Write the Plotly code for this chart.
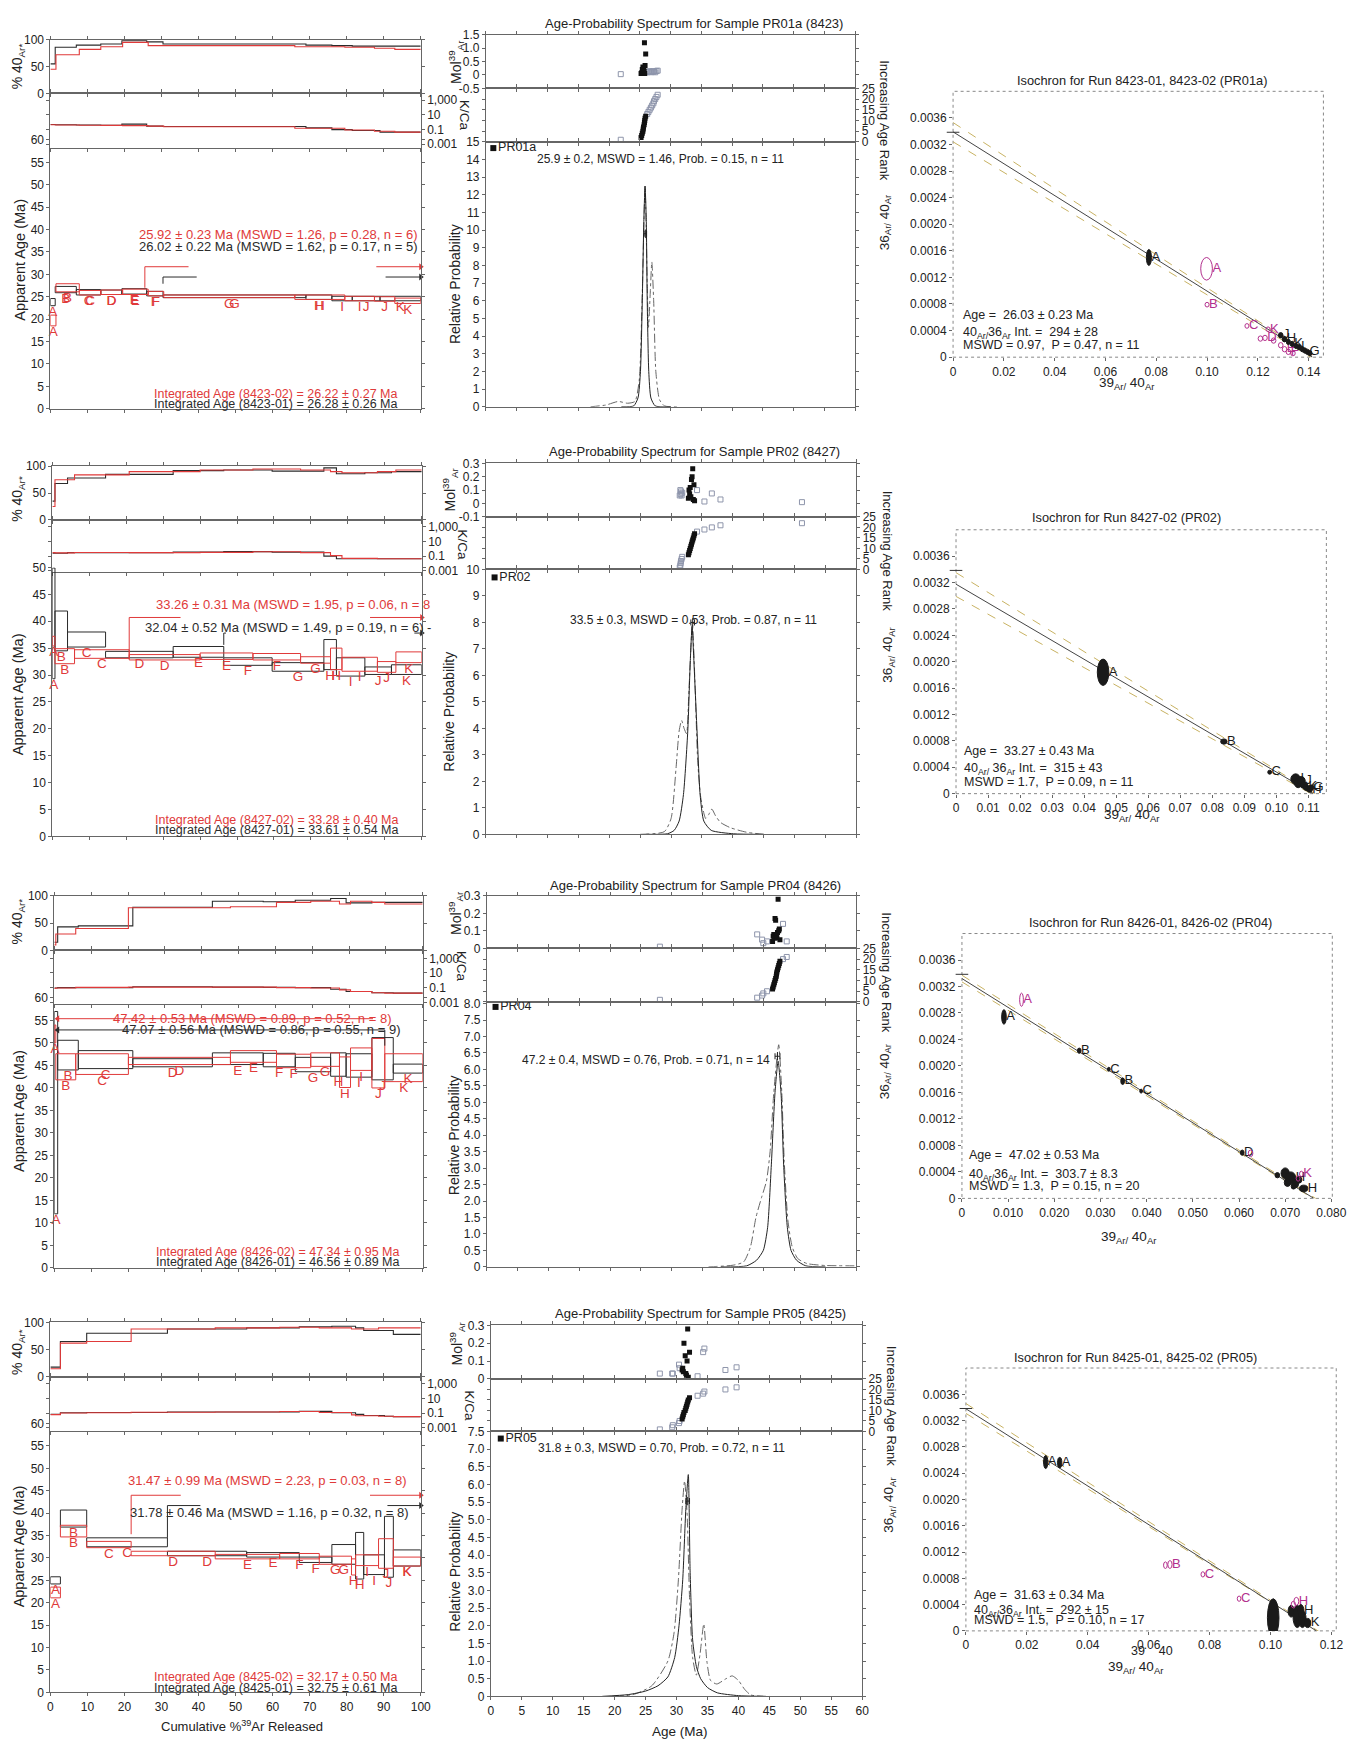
import plotly.graph_objects as go

W, H = 1370, 1748
FONT = "Liberation Sans, Arial, Helvetica, sans-serif"
RED = "#e03a3a"
BLK = "#2b2b2b"
MAG = "#b3308e"
OLIVE = "#c8b262"
OPEN = "#8e95ab"
LETTERS = ["A", "B", "C", "D", "E", "F", "G", "H", "I", "J", "K"]

# ================= Row 1 : PR01a (8423) =================
R1_EDGES_01 = [0, 1.3, 7.0, 13.6, 19.3, 26.0, 30.4, 69.0, 76.0, 81.5, 89.0, 100]
R1_AGE_01 = [23.8, 26.6, 26.0, 26.0, 26.2, 25.7, 25.1, 24.9, 24.6, 24.6, 24.6]
R1_ERR_01 = [0.8, 0.7, 0.6, 0.5, 0.6, 0.5, 0.3, 0.5, 0.5, 0.5, 0.5]
R1_RAD_01 = [55, 86, 90, 92, 98, 96, 92, 90, 89, 88, 88]
R1_KCA_01 = [0.5, 0.45, 0.42, 0.4, 0.55, 0.3, 0.27, 0.17, 0.1, 0.075, 0.045]
R1_EDGES_02 = [0, 1.5, 7.8, 13.6, 19.5, 26.4, 30.6, 66.0, 79.5, 87.5, 93.0, 100]
R1_AGE_02 = [19.7, 27.0, 25.9, 26.0, 26.1, 25.7, 25.1, 24.9, 24.6, 24.5, 24.1]
R1_ERR_02 = [1.2, 0.9, 0.5, 0.5, 0.6, 0.5, 0.3, 0.5, 0.5, 0.5, 0.6]
R1_RAD_02 = [45, 72, 82, 87, 95, 89, 89, 87, 86, 84, 82]
R1_KCA_02 = [0.45, 0.42, 0.4, 0.38, 0.35, 0.3, 0.25, 0.15, 0.09, 0.06, 0.045]
R1_PLAT_02 = [25.5, 100, 31.7, 25.5, 27.0, 37.3, 88.0]
R1_PLAT_01 = [30.4, 100, 29.4, 30.4, 27.9, 39.5, 90.5]
R1_PLAT_HEAD = "right"
R1_PLAT_TXT_02 = "25.92 ± 0.23 Ma (MSWD = 1.26, p = 0.28, n = 6)"
R1_PLAT_TXT_01 = "26.02 ± 0.22 Ma (MSWD = 1.62, p = 0.17, n = 5)"
R1_INT_TXT_02 = "Integrated Age (8423-02) = 26.22 ± 0.27 Ma"
R1_INT_TXT_01 = "Integrated Age (8423-01) = 26.28 ± 0.26 Ma"
R1_MID_AGE = [21.9, 25.2, 25.3, 25.4, 25.5, 25.55, 25.6, 25.7, 25.75, 25.8, 25.85, 25.95,
              26.2, 26.4, 26.6, 26.8, 27.0, 27.2, 27.3, 27.5, 27.7, 27.9]
R1_MID_MOL = [0.03, 0.05, 0.08, 0.2, 0.3, 0.1, 0.25, 0.15, 1.2, 0.05, 0.35, 0.78,
              0.1, 0.12, 0.14, 0.1, 0.13, 0.12, 0.14, 0.1, 0.15, 0.16]
R1_MID_INC = [0, 1, 1, 1, 1, 1, 1, 1, 1, 1, 1, 1, 0, 0, 0, 0, 0, 0, 0, 0, 0, 0]
R1_PDF_X = [22, 24.0, 24.7, 25.1, 25.4, 25.65, 25.85, 26.05, 26.2, 26.45, 26.8, 27.5, 30]
R1_PDF_Y = [0, 0.05, 0.5, 2.0, 6.0, 10.5, 12.5, 10.5, 6.0, 2.0, 0.5, 0.05, 0]
R1_ALL_X = [17, 19.5, 21.5, 23.0, 24.2, 24.9, 25.4, 25.85, 26.2, 26.4, 26.7, 26.95, 27.25, 27.6, 28.2, 29.0, 31]
R1_ALL_Y = [0, 0.1, 0.3, 0.2, 0.3, 1.5, 6.5, 12.5, 7.0, 4.5, 6.5, 8.2, 6.0, 2.0, 0.4, 0.05, 0]
R1_WM = [25.9, 0.2]
R1_WM_TXT = "25.9 ± 0.2, MSWD = 1.46, Prob. = 0.15, n = 11"
R1_SAMPLE = "PR01a"
R1_MID_TITLE = "Age-Probability Spectrum for Sample PR01a (8423)"
R1_ISO_TITLE = "Isochron for Run 8423-01, 8423-02 (PR01a)"
R1_ISO_X = [0.0771, 0.1290, 0.1305, 0.1320, 0.1335, 0.1350, 0.1362, 0.1375, 0.1385, 0.1395, 0.1405,
            0.0998, 0.1000, 0.1157, 0.1240, 0.1210, 0.1228, 0.1262, 0.1290, 0.1305, 0.1320, 0.1338]
R1_ISO_Y = [0.00150, 0.00033, 0.00027, 0.00023, 0.00020, 0.00017, 0.00015, 0.00012, 0.00010, 0.00008, 0.00006,
            0.00133, 0.00079, 0.00047, 0.00042, 0.00028, 0.00029, 0.00025, 0.00018, 0.00012, 0.00008, 0.00006]
R1_ISO_SX = [0.0010, 0.0009, 0.0009, 0.0008, 0.0008, 0.0008, 0.0008, 0.0008, 0.0008, 0.0008, 0.0008,
             0.0023, 0.0008, 0.0008, 0.0008, 0.0009, 0.0009, 0.0009, 0.0009, 0.0009, 0.0009, 0.0009]
R1_ISO_SY = [0.00012, 0.00004, 0.00004, 0.00004, 0.00004, 0.00004, 0.00004, 0.00004, 0.00004, 0.00004, 0.00004,
             0.00017, 0.000035, 0.000035, 0.000035, 0.00004, 0.00004, 0.00004, 0.00004, 0.00004, 0.00004, 0.00004]
R1_ISO_FILLED = [1, 1, 1, 1, 1, 1, 1, 1, 1, 1, 1, 0, 0, 0, 0, 0, 0, 0, 0, 0, 0, 0]
R1_ISO_LBL = ["A", "J", "H", "", "K", "", "I", "", "", "G", "", "A", "B", "C", "K", "", "D", "", "", "E", "F", ""]
R1_FIT = [0.00339, 0.1415]
R1_ENV_X = [0, 0.13, 0.1460]
R1_ENV_HI = [0.00353, 0.00030, -0.00010]
R1_ENV_LO = [0.00324, 0.00025, -0.00012]
R1_ISO_TXT = ["Age =  26.03 ± 0.23 Ma", "40<sub>Ar/</sub>36<sub>Ar</sub> Int. =  294 ± 28", "MSWD = 0.97,  P = 0.47, n = 11"]

# ================= Row 2 : PR02 (8427) =================
R2_EDGES_01 = [0, 0.7, 4.1, 14.4, 32.7, 46.4, 59.5, 73.5, 76.9, 84.6, 91.8, 100]
R2_AGE_01 = [39.6, 38.2, 36.6, 33.8, 34.3, 32.5, 31.5, 33.8, 31.5, 30.8, 31.0]
R2_ERR_01 = [10.3, 3.7, 1.4, 0.6, 1.0, 0.7, 0.8, 2.8, 1.7, 0.7, 0.9]
R2_RAD_01 = [35, 68, 78, 85, 92, 93, 91, 97, 86, 88, 90]
R2_KCA_01 = [0.25, 0.25, 0.3, 0.3, 0.35, 0.42, 0.35, 0.1, 0.045, 0.045, 0.045]
R2_EDGES_02 = [0, 0.7, 6.0, 20.8, 40.0, 54.3, 67.2, 75.3, 78.4, 88.0, 93.0, 100]
R2_AGE_02 = [36.3, 33.5, 33.9, 33.3, 33.5, 33.4, 32.8, 33.0, 32.0, 31.5, 33.3]
R2_ERR_02 = [0.9, 1.4, 0.8, 0.5, 0.6, 0.6, 0.6, 2.0, 1.3, 1.0, 1.0]
R2_RAD_02 = [25, 75, 84, 90, 93, 95, 93, 90, 88, 90, 93]
R2_KCA_02 = [0.3, 0.28, 0.32, 0.3, 0.33, 0.4, 0.3, 0.12, 0.05, 0.045, 0.045]
R2_PLAT_02 = [20.8, 100, 40.7, 20.8, 33.1, 34.7, 86.0]
R2_PLAT_01 = [46.4, 100, 37.8, 46.4, 35.6, 47.0, 98.0]
R2_PLAT_HEAD = "right"
R2_PLAT_TXT_02 = "33.26 ± 0.31 Ma (MSWD = 1.95, p = 0.06, n = 8"
R2_PLAT_TXT_01 = "32.04 ± 0.52 Ma (MSWD = 1.49, p = 0.19, n = 6) -"
R2_INT_TXT_02 = "Integrated Age (8427-02) = 33.28 ± 0.40 Ma"
R2_INT_TXT_01 = "Integrated Age (8427-01) = 33.61 ± 0.54 Ma"
R2_MID_AGE = [31.4, 31.5, 31.55, 31.6, 31.7, 31.8, 32.8, 32.9, 33.0, 33.1, 33.2, 33.3, 33.4, 33.5, 33.6,
              33.7, 33.8, 34.2, 35.4, 36.6, 38.0, 51.2]
R2_MID_MOL = [0.06, 0.1, 0.07, 0.09, 0.06, 0.08, 0.04, 0.1, 0.07, 0.12, 0.05, 0.18, 0.2, 0.26, 0.03,
              0.14, 0.02, 0.1, 0.015, 0.075, 0.03, 0.01]
R2_MID_INC = [0, 0, 0, 0, 0, 0, 1, 1, 1, 1, 1, 1, 1, 1, 1, 1, 1, 0, 0, 0, 0, 0]
R2_PDF_X = [26, 29.4, 30.5, 31.3, 32.0, 32.7, 33.1, 33.4, 33.7, 34.2, 34.7, 35.3, 36.5, 40.1, 45]
R2_PDF_Y = [0, 0.02, 0.15, 0.5, 1.5, 3.9, 6.5, 7.85, 6.5, 3.9, 1.5, 0.5, 0.15, 0.02, 0]
R2_ALL_X = [25, 28.9, 30.0, 30.8, 31.3, 31.7, 32.1, 32.5, 32.9, 33.45, 33.9, 34.3, 34.8, 35.6, 36.1,
            36.6, 37.2, 38.0, 39.6, 42.2, 45]
R2_ALL_Y = [0, 0.1, 0.6, 2.5, 3.9, 4.3, 4.0, 3.8, 5.5, 7.95, 5.5, 2.8, 1.4, 0.6, 0.75,
            0.95, 0.7, 0.45, 0.25, 0.08, 0]
R2_WM = [33.5, 0.3]
R2_WM_TXT = "33.5 ± 0.3, MSWD = 0.53, Prob. = 0.87, n = 11"
R2_SAMPLE = "PR02"
R2_MID_TITLE = "Age-Probability Spectrum for Sample PR02 (8427)"
R2_ISO_TITLE = "Isochron for Run 8427-02 (PR02)"
R2_ISO_X = [0.0459, 0.0836, 0.0979, 0.1060, 0.1068, 0.1078, 0.1085, 0.1092, 0.1098, 0.1104, 0.1108]
R2_ISO_Y = [0.00184, 0.00079, 0.000325, 0.00022, 0.00016, 0.00019, 0.00013, 0.00010, 0.00008, 0.00006, 0.00009]
R2_ISO_SX = [0.0018, 0.0010, 0.0006, 0.0015, 0.0012, 0.0012, 0.0010, 0.0008, 0.0008, 0.0008, 0.0008]
R2_ISO_SY = [0.00020, 0.00004, 0.00003, 0.00008, 0.00007, 0.00007, 0.00005, 0.00005, 0.00004, 0.00004, 0.00004]
R2_ISO_FILLED = [1, 1, 1, 1, 1, 1, 1, 1, 1, 1, 1]
R2_ISO_LBL = ["A", "B", "C", "I", "", "J", "", "K", "", "H", "G"]
R2_FIT = [0.003175, 0.1115]
R2_ENV_X = [0, 0.105, 0.1156]
R2_ENV_HI = [0.00335, 0.00021, -0.00011]
R2_ENV_LO = [0.00299, 0.00016, -0.00013]
R2_ISO_TXT = ["Age =  33.27 ± 0.43 Ma", "40<sub>Ar/</sub> 36<sub>Ar</sub> Int. =  315 ± 43", "MSWD = 1.7,  P = 0.09, n = 11"]

# ================= Row 3 : PR04 (8426) =================
R3_EDGES_01 = [0, 0.9, 6.5, 21.3, 42.9, 56.7, 65.4, 75.0, 79.2, 86.2, 92.0, 100]
R3_AGE_01 = [34.5, 47.3, 46.3, 45.6, 46.5, 46.2, 45.2, 45.2, 45.0, 46.5, 44.3]
R3_ERR_01 = [22.5, 3.3, 2.0, 0.9, 1.3, 1.5, 1.6, 2.6, 2.6, 4.7, 1.0]
R3_RAD_01 = [15, 43, 45, 79, 90, 89, 92, 95, 87, 88, 88]
R3_KCA_01 = [0.09, 0.1, 0.1, 0.13, 0.12, 0.11, 0.1, 0.06, 0.03, 0.02, 0.018]
R3_EDGES_02 = [0, 0.4, 5.8, 20.1, 47.8, 60.3, 69.6, 77.4, 80.4, 86.2, 89.7, 100]
R3_AGE_02 = [52.0, 44.7, 45.3, 46.0, 47.0, 46.0, 46.3, 43.5, 46.4, 45.5, 44.5]
R3_ERR_02 = [2.0, 2.9, 2.3, 0.8, 1.3, 1.5, 1.5, 3.4, 2.5, 5.5, 3.1]
R3_RAD_02 = [10, 30, 40, 78, 80, 88, 90, 85, 90, 88, 85]
R3_KCA_02 = [0.08, 0.09, 0.11, 0.12, 0.12, 0.1, 0.09, 0.05, 0.03, 0.02, 0.018]
R3_PLAT_02 = [0.9, 86.5, 55.4, None, None, None, None]
R3_PLAT_01 = [0.9, 89.7, 52.9, 89.7, 49.4, None, None]
R3_PLAT_HEAD = "left"
R3_PLAT_TXT_02 = "47.42 ± 0.53 Ma (MSWD = 0.89, p = 0.52, n = 8)"
R3_PLAT_TXT_01 = "47.07 ± 0.56 Ma (MSWD = 0.86, p = 0.55, n = 9)"
R3_INT_TXT_02 = "Integrated Age (8426-02) = 47.34 ± 0.95 Ma"
R3_INT_TXT_01 = "Integrated Age (8426-01) = 46.56 ± 0.89 Ma"
R3_MID_AGE = [28.1, 43.9, 44.7, 44.9, 45.5, 46.4, 46.5, 46.6, 46.7, 46.8, 46.9, 47.0, 47.05, 47.1,
              47.2, 47.3, 47.4, 47.5, 47.6, 48.1, 48.7]
R3_MID_MOL = [0.01, 0.08, 0.05, 0.03, 0.04, 0.04, 0.07, 0.08, 0.06, 0.17, 0.16, 0.08, 0.07, 0.06,
              0.09, 0.28, 0.1, 0.11, 0.05, 0.14, 0.04]
R3_MID_INC = [0, 0, 0, 0, 0, 1, 1, 1, 1, 1, 1, 1, 1, 1, 1, 1, 1, 1, 1, 0, 0]
R3_PDF_X = [38, 42.2, 43.8, 44.9, 45.6, 46.2, 46.8, 47.3, 47.8, 48.2, 48.8, 49.4, 50.3, 51.8, 55]
R3_PDF_Y = [0, 0.03, 0.2, 0.5, 1.2, 3.1, 5.3, 6.25, 5.2, 3.1, 1.2, 0.5, 0.2, 0.03, 0]
R3_ALL_X = [36, 40, 41.7, 42.8, 43.7, 44.6, 45.4, 46.0, 46.6, 47.4, 47.9, 48.3, 48.9, 49.6, 50.5, 52, 55, 60]
R3_ALL_Y = [0, 0.05, 0.15, 0.6, 1.5, 2.1, 2.6, 3.5, 5.3, 6.75, 5.3, 3.2, 1.4, 0.6, 0.25, 0.1, 0.04, 0.03]
R3_WM = [47.2, 0.4]
R3_WM_TXT = "47.2 ± 0.4, MSWD = 0.76, Prob. = 0.71, n = 14"
R3_SAMPLE = "PR04"
R3_MID_TITLE = "Age-Probability Spectrum for Sample PR04 (8426)"
R3_ISO_TITLE = "Isochron for Run 8426-01, 8426-02 (PR04)"
R3_ISO_X = [0.0091, 0.0254, 0.0318, 0.0348, 0.0388, 0.0607, 0.0683, 0.0700, 0.0712, 0.0705, 0.0722, 0.0730, 0.0740, 0.0718,
            0.0129, 0.0625, 0.0735, 0.0728]
R3_ISO_Y = [0.00274, 0.00223, 0.00195, 0.00177, 0.00162, 0.00069, 0.00035, 0.00038, 0.00031, 0.00024, 0.00022, 0.00028, 0.00015, 0.00018,
            0.00300, 0.00068, 0.00037, 0.00030]
R3_ISO_SX = [0.0005, 0.0004, 0.0003, 0.0004, 0.0003, 0.0004, 0.0005, 0.0009, 0.0011, 0.0007, 0.0007, 0.0006, 0.0009, 0.0005,
             0.0004, 0.0005, 0.0004, 0.0004]
R3_ISO_SY = [0.00011, 0.00004, 0.00003, 0.00005, 0.00003, 0.00004, 0.00004, 0.00008, 0.00009, 0.00006, 0.00006, 0.00005, 0.00005, 0.00004,
             0.00010, 0.00005, 0.00004, 0.00004]
R3_ISO_FILLED = [1, 1, 1, 1, 1, 1, 1, 1, 1, 1, 1, 1, 1, 1, 0, 0, 0, 0]
R3_ISO_LBL = ["A", "B", "C", "B", "C", "D", "", "", "H", "", "", "", "H", "", "A", "", "K", ""]
R3_FIT = [0.00332, 0.0762]
R3_ENV_X = [0, 0.07, 0.0802]
R3_ENV_HI = [0.00337, 0.00029, -0.00016]
R3_ENV_LO = [0.00327, 0.00026, -0.00018]
R3_ISO_TXT = ["Age =  47.02 ± 0.53 Ma", "40<sub>Ar/</sub>36<sub>Ar</sub> Int. =  303.7 ± 8.3", "MSWD = 1.3,  P = 0.15, n = 20"]

# ================= Row 4 : PR05 (8425) =================
R4_EDGES_01 = [0, 2.7, 9.8, 31.6, 53.0, 67.2, 76.0, 82.4, 84.6, 90.2, 92.6, 100]
R4_AGE_01 = [25.0, 38.8, 33.5, 31.0, 30.7, 29.6, 30.8, 30.5, 28.5, 32.5, 30.0]
R4_ERR_01 = [0.8, 1.9, 1.0, 0.5, 0.5, 0.6, 2.2, 5.2, 2.2, 6.8, 1.8]
R4_RAD_01 = [18, 65, 80, 88, 90, 92, 93, 90, 85, 85, 78]
R4_KCA_01 = [0.07, 0.12, 0.13, 0.15, 0.15, 0.18, 0.12, 0.07, 0.05, 0.04, 0.035]
R4_EDGES_02 = [0, 2.7, 9.8, 21.8, 44.5, 61.9, 72.6, 81.3, 82.4, 88.6, 92.6, 100]
R4_AGE_02 = [22.3, 36.0, 33.0, 31.0, 30.3, 30.4, 29.5, 28.0, 29.5, 31.0, 29.2]
R4_ERR_02 = [1.2, 1.3, 0.7, 0.5, 0.5, 0.6, 0.9, 1.8, 1.2, 3.3, 1.0]
R4_RAD_02 = [15, 62, 65, 88, 90, 91, 90, 88, 88, 90, 90]
R4_KCA_02 = [0.065, 0.11, 0.12, 0.14, 0.15, 0.17, 0.13, 0.06, 0.045, 0.04, 0.035]
R4_PLAT_02 = [21.8, 100, 44.0, 21.8, 35.3, 35.2, 86.3]
R4_PLAT_01 = [31.6, 100, 41.7, 31.6, 34.5, 40.5, 91.0]
R4_PLAT_HEAD = "right"
R4_PLAT_TXT_02 = "31.47 ± 0.99 Ma (MSWD = 2.23, p = 0.03, n = 8)"
R4_PLAT_TXT_01 = "31.78 ± 0.46 Ma (MSWD = 1.16, p = 0.32, n = 8)"
R4_INT_TXT_02 = "Integrated Age (8425-02) = 32.17 ± 0.50 Ma"
R4_INT_TXT_01 = "Integrated Age (8425-01) = 32.75 ± 0.61 Ma"
R4_MID_AGE = [27.3, 29.3, 29.4, 30.4, 30.5, 30.9, 31.0, 31.1, 31.2, 31.4, 31.5, 31.6, 31.7, 31.8, 31.9,
              32.1, 33.4, 34.3, 34.5, 37.9, 39.7]
R4_MID_MOL = [0.03, 0.03, 0.03, 0.08, 0.06, 0.05, 0.06, 0.04, 0.2, 0.13, 0.03, 0.02, 0.1, 0.28, 0.01,
              0.15, 0.015, 0.15, 0.17, 0.05, 0.065]
R4_MID_INC = [0, 0, 0, 0, 0, 1, 1, 1, 1, 1, 1, 1, 1, 1, 1, 1, 0, 0, 0, 0, 0]
R4_PDF_X = [18, 22.2, 25.0, 27.0, 28.6, 29.7, 30.4, 31.0, 31.5, 31.9, 32.2, 32.6, 33.2, 33.9, 35.0, 36.6, 40, 44]
R4_PDF_Y = [0, 0.05, 0.15, 0.3, 0.55, 1.1, 2.0, 3.3, 5.3, 6.28, 3.5, 1.6, 0.85, 0.5, 0.25, 0.1, 0.02, 0]
R4_ALL_X = [20, 23, 26, 28.6, 29.6, 30.3, 30.9, 31.3, 31.7, 32.1, 32.6, 33.2, 33.8, 34.4, 34.9, 35.5,
            36.5, 38.0, 39.0, 40.0, 41.0, 42, 45]
R4_ALL_Y = [0, 0.05, 0.3, 1.0, 1.8, 3.3, 5.3, 6.1, 5.2, 2.8, 1.1, 0.6, 1.2, 2.05, 1.0, 0.45,
            0.35, 0.5, 0.58, 0.45, 0.2, 0.04, 0]
R4_WM = [31.8, 0.3]
R4_WM_TXT = "31.8 ± 0.3, MSWD = 0.70, Prob. = 0.72, n = 11"
R4_SAMPLE = "PR05"
R4_MID_TITLE = "Age-Probability Spectrum for Sample PR05 (8425)"
R4_ISO_TITLE = "Isochron for Run 8425-01, 8425-02 (PR05)"
R4_ISO_X = [0.0262, 0.0308, 0.1009, 0.1068, 0.1088, 0.1105, 0.1122, 0.1100, 0.0655, 0.0670, 0.0778, 0.0897, 0.1085, 0.1075]
R4_ISO_Y = [0.00257, 0.00256, 0.00020, 0.00030, 0.00022, 0.00018, 0.00012, 0.00030, 0.00100, 0.00101, 0.00086, 0.00049, 0.00045, 0.00040]
R4_ISO_SX = [0.0007, 0.0007, 0.0019, 0.0010, 0.0014, 0.0012, 0.0010, 0.0010, 0.0006, 0.0007, 0.0006, 0.0006, 0.0008, 0.0007]
R4_ISO_SY = [0.00010, 0.00008, 0.00029, 0.00009, 0.00017, 0.00013, 0.00007, 0.00010, 0.00005, 0.00006, 0.00004, 0.00004, 0.00006, 0.00005]
R4_ISO_FILLED = [1, 1, 1, 1, 1, 1, 1, 1, 0, 0, 0, 0, 0, 0]
R4_ISO_LBL = ["A", "A", "", "", "", "", "K", "H", "", "B", "C", "C", "H", ""]
R4_FIT = [0.00338, 0.1151]
R4_ENV_X = [0, 0.105, 0.1216]
R4_ENV_HI = [0.00346, 0.00032, -0.00018]
R4_ENV_LO = [0.00331, 0.00030, -0.00018]
R4_ISO_TXT = ["Age =  31.63 ± 0.34 Ma", "40<sub>Ar/</sub>36<sub>Ar</sub> Int. =  292 ± 15", "MSWD = 1.5,  P = 0.10, n = 17"]

ATM_RATIO = 0.003384

ROWS = []
for p in ["R1", "R2", "R3", "R4"]:
    g = globals()
    ROWS.append({k: g[p + "_" + k] for k in [
        "EDGES_01", "AGE_01", "ERR_01", "RAD_01", "KCA_01", "EDGES_02", "AGE_02", "ERR_02", "RAD_02", "KCA_02",
        "PLAT_02", "PLAT_01", "PLAT_HEAD", "PLAT_TXT_02", "PLAT_TXT_01", "INT_TXT_02", "INT_TXT_01",
        "MID_AGE", "MID_MOL", "MID_INC", "PDF_X", "PDF_Y", "ALL_X", "ALL_Y", "WM", "WM_TXT", "SAMPLE",
        "MID_TITLE", "ISO_TITLE", "ISO_X", "ISO_Y", "ISO_SX", "ISO_SY", "ISO_FILLED", "ISO_LBL",
        "FIT", "ENV_X", "ENV_HI", "ENV_LO", "ISO_TXT"]})


def fmt_list(vals, fmt):
    return ["0" if v == 0 else fmt.format(v) for v in vals]


ISO_Y_TV = [0, 0.0004, 0.0008, 0.0012, 0.0016, 0.0020, 0.0024, 0.0028, 0.0032, 0.0036]

# ---------------- layout geometry (pixels) ----------------
GEOM = [
    dict(lx=(48, 423), rad=(33, 87), kca=(87, 142), age=(134, 405), kca_r=[-3.49, 3.95], age_max=60,
         mx=(489, 863), mol=(28, 82), rank=(82, 136), prob=(136, 403),
         mol_r=[-0.5, 1.5], mol_tv=[-0.5, 0, 0.5, 1.0, 1.5], mol_tt=["-0.5", "0", "0.5", "1.0", "1.5"],
         prob_max=15, prob_tv=list(range(0, 16)), prob_tt=[str(v) for v in range(0, 16)],
         ix=(962, 1337), iy=(85, 353), ix_max=0.1458,
         ix_tv=[0, 0.02, 0.04, 0.06, 0.08, 0.10, 0.12, 0.14], ix_fmt="{:.2f}",
         ptxt02=(99.5, 38.9, "right"), ptxt01=(99.5, 36.3, "right"), itxt02=(94.3, 3.2), itxt01=(94.3, 1.1),
         wm_txt=(28.4, 14.05), slab=(1.2, 14.65), wm_lvl=9.8, isotxt_x=0.0032,
         isotxt_y=[0.00064, 0.00037, 0.00018],
         t_mid=(700, 17), t_iso=(1153, 74), t_isox=(1138, 380), t_isoy=(893, 217), t_rank=(893, 114),
         t_rad=(15, 60), t_age=(17, 255), t_prob=(457, 279), t_mol=(458, 55), t_kca=(468, 109)),
    dict(lx=(50, 424), rad=(463, 517), kca=(517, 570), age=(565, 836), kca_r=[-3.22, 3.95], age_max=50,
         mx=(489, 864), mol=(460, 514), rank=(514, 567), prob=(567, 834),
         mol_r=[-0.1, 0.3], mol_tv=[-0.1, 0, 0.1, 0.2, 0.3], mol_tt=["-0.1", "0", "0.1", "0.2", "0.3"],
         prob_max=10, prob_tv=list(range(0, 11)), prob_tt=[str(v) for v in range(0, 11)],
         ix=(965, 1340), iy=(527, 793), ix_max=0.1156,
         ix_tv=[0, 0.01, 0.02, 0.03, 0.04, 0.05, 0.06, 0.07, 0.08, 0.09, 0.10, 0.11], ix_fmt="{:.2f}",
         ptxt02=(27.5, 43.2, "left"), ptxt01=(24.6, 38.8, "left"), itxt02=(94.5, 3.0), itxt01=(94.5, 1.1),
         wm_txt=(33.6, 8.1), slab=(1.4, 9.7), wm_lvl=8.0, isotxt_x=0.002,
         isotxt_y=[0.00065, 0.000375, 0.000175],
         t_mid=(700, 448), t_iso=(1138, 515), t_isox=(1143, 815), t_isoy=(897, 653), t_rank=(895, 548),
         t_rad=(15, 496), t_age=(16, 693), t_prob=(452, 710), t_mol=(453, 486), t_kca=(465, 542)),
    dict(lx=(52, 425), rad=(896, 951), kca=(951, 1005), age=(999, 1271), kca_r=[-3.22, 4.08], age_max=60,
         mx=(490, 864), mol=(896, 949), rank=(949, 1003), prob=(1003, 1270),
         mol_r=[0, 0.3], mol_tv=[0, 0.1, 0.2, 0.3], mol_tt=["0", "0.1", "0.2", "0.3"],
         prob_max=8.05, prob_tv=[v / 2 for v in range(0, 17)],
         prob_tt=["0"] + ["{:.1f}".format(v / 2) for v in range(1, 17)],
         ix=(971, 1346), iy=(934, 1201), ix_max=0.0802,
         ix_tv=[0, 0.01, 0.02, 0.03, 0.04, 0.05, 0.06, 0.07, 0.08], ix_fmt="{:.3f}",
         ptxt02=(92.0, 55.4, "right"), ptxt01=(94.4, 52.9, "right"), itxt02=(94.5, 3.5), itxt01=(94.5, 1.2),
         wm_txt=(25.9, 6.3), slab=(1.4, 7.9), wm_lvl=6.4, isotxt_x=0.0011,
         isotxt_y=[0.00065, 0.00035, 0.000185],
         t_mid=(701, 886), t_iso=(1162, 923), t_isox=(1140, 1240), t_isoy=(893, 1073), t_rank=(895, 973),
         t_rad=(15, 922), t_age=(16, 1113), t_prob=(457, 1137), t_mol=(458, 913), t_kca=(465, 967)),
    dict(lx=(48, 423), rad=(1326, 1381), kca=(1381, 1435), age=(1428, 1699), kca_r=[-3.35, 3.95], age_max=60,
         mx=(494, 870), mol=(1329, 1383), rank=(1383, 1436), prob=(1436, 1703),
         mol_r=[0, 0.3], mol_tv=[0, 0.1, 0.2, 0.3], mol_tt=["0", "0.1", "0.2", "0.3"],
         prob_max=7.5, prob_tv=[v / 2 for v in range(0, 16)],
         prob_tt=["0"] + ["{:.1f}".format(v / 2) for v in range(1, 16)],
         ix=(975, 1350), iy=(1372, 1637), ix_max=0.1216,
         ix_tv=[0, 0.02, 0.04, 0.06, 0.08, 0.10, 0.12], ix_fmt="{:.2f}",
         ptxt02=(96.6, 47.2, "right"), ptxt01=(97.2, 40.2, "right"), itxt02=(94.4, 3.4), itxt01=(94.4, 1.0),
         wm_txt=(27.6, 7.03), slab=(1.6, 7.3), wm_lvl=5.53, isotxt_x=0.0019,
         isotxt_y=[0.00055, 0.00030, 0.00016],
         t_mid=(706, 1317), t_iso=(1147, 1361), t_isox=(1147, 1674), t_isoy=(898, 1510), t_rank=(899, 1410),
         t_rad=(15, 1356), t_age=(16, 1552), t_prob=(458, 1577), t_mol=(460, 1347), t_kca=(472, 1410)),
]

fig = go.Figure()
LAY = {}
ANN = []
SHP = []
_n = [0]


def xp(p):
    return p / W


def yp(p):
    return 1 - p / H


def base_axis():
    return dict(showline=True, linecolor="#666", linewidth=1, showgrid=False, zeroline=False,
                ticks="outside", ticklen=3, tickwidth=1, tickcolor="#666", mirror="ticks",
                tickfont=dict(family=FONT, size=12, color="#222"))


def make_axes(xpx, ypx, xr, yr, xo=None, yo=None):
    _n[0] += 1
    k = _n[0]
    s = "" if k == 1 else str(k)
    xa = base_axis()
    xa.update(domain=[xp(xpx[0]), xp(xpx[1])], range=xr, anchor="y" + s)
    ya = base_axis()
    ya.update(domain=[yp(ypx[1]), yp(ypx[0])], range=yr, anchor="x" + s)
    if xo:
        xa.update(xo)
    if yo:
        ya.update(yo)
    LAY["xaxis" + s] = xa
    LAY["yaxis" + s] = ya
    return "x" + s, "y" + s


def add(tr, xa, ya):
    tr.update(xaxis=xa, yaxis=ya, showlegend=False, hoverinfo="skip")
    fig.add_trace(tr)


def txt(xref, yref, x, y, text, size=12, color="#222", xanchor="center", yanchor="middle", angle=0):
    ANN.append(dict(xref=xref, yref=yref, x=x, y=y, text=text, showarrow=False, xanchor=xanchor,
                    yanchor=yanchor, textangle=angle, font=dict(family=FONT, size=size, color=color)))


def ptxt(pos, text, size=12, angle=0, xanchor="center"):
    txt("paper", "paper", xp(pos[0]), yp(pos[1]), text, size=size, angle=angle, xanchor=xanchor)


def boxes(edges, age, err):
    xs, ys = [], []
    for i in range(len(age)):
        x0, x1 = edges[i], edges[i + 1]
        lo, hi = age[i] - err[i], age[i] + err[i]
        xs += [x0, x1, x1, x0, x0, None]
        ys += [lo, lo, hi, hi, lo, None]
    return xs, ys


def plateau(xa, ya, P, head, col):
    x0, x1, y, tx, tto, g0, g1 = P
    if g0 is None:
        xs, ys = [x0, x1], [y, y]
    else:
        xs, ys = [x0, g0, None, g1, x1], [y, y, None, y, y]
    if tx is not None:
        xs += [None, tx, tx]
        ys += [None, y, tto]
    add(go.Scatter(x=xs, y=ys, mode="lines", line=dict(color=col, width=1)), xa, ya)
    hx = x1 if head == "right" else x0
    sym = "triangle-right" if head == "right" else "triangle-left"
    add(go.Scatter(x=[hx], y=[y], mode="markers", cliponaxis=False,
                   marker=dict(symbol=sym, size=6, color=col)), xa, ya)


for i, R in enumerate(ROWS):
    G = GEOM[i]
    last = (i == 3)
    lx = G["lx"]
    hide = dict(showticklabels=False, tickvals=list(range(0, 101, 10)))

    # ---------- % 40Ar* ----------
    xa, ya = make_axes(lx, G["rad"], [0, 100], [0, 100], xo=hide,
                       yo=dict(tickvals=[0, 50, 100], ticktext=["0", "50", "100"]))
    for e, v, c in [(R["EDGES_01"], R["RAD_01"], BLK), (R["EDGES_02"], R["RAD_02"], RED)]:
        add(go.Scatter(x=e, y=v + [v[-1]], mode="lines", line=dict(color=c, width=1.1, shape="hv")), xa, ya)

    # ---------- K/Ca ----------
    xa, ya = make_axes(lx, G["kca"], [0, 100], G["kca_r"], xo=hide,
                       yo=dict(type="log", side="right", tickvals=[1000, 10, 0.1, 0.001],
                               ticktext=["1,000", "10", "0.1", "0.001"]))
    for e, v, c in [(R["EDGES_01"], R["KCA_01"], BLK), (R["EDGES_02"], R["KCA_02"], RED)]:
        add(go.Scatter(x=e, y=v + [v[-1]], mode="lines", line=dict(color=c, width=1.1, shape="hv")), xa, ya)

    # ---------- Apparent age spectrum ----------
    xo = dict(showticklabels=last, tickvals=list(range(0, 101, 10)), mirror=False)
    xa, ya = make_axes(lx, G["age"], [0, 100], [0, G["age_max"]], xo=xo,
                       yo=dict(tickvals=list(range(0, G["age_max"] + 1, 5))))
    for e, a, s, c in [(R["EDGES_01"], R["AGE_01"], R["ERR_01"], BLK),
                       (R["EDGES_02"], R["AGE_02"], R["ERR_02"], RED)]:
        bx, by = boxes(e, a, s)
        add(go.Scatter(x=bx, y=by, mode="lines", line=dict(color=c, width=1)), xa, ya)
        mids = [(e[j] + e[j + 1]) / 2 for j in range(len(a))]
        low = [a[j] - s[j] for j in range(len(a))]
        add(go.Scatter(x=mids, y=low, mode="text", text=LETTERS[:len(a)], textposition="bottom center",
                       cliponaxis=False, textfont=dict(family=FONT, size=13.5, color=RED)), xa, ya)
    plateau(xa, ya, R["PLAT_02"], R["PLAT_HEAD"], RED)
    plateau(xa, ya, R["PLAT_01"], R["PLAT_HEAD"], BLK)
    px_, py_, pa_ = G["ptxt02"]
    txt(xa, ya, px_, py_, R["PLAT_TXT_02"], size=13, color=RED, xanchor=pa_)
    px_, py_, pa_ = G["ptxt01"]
    txt(xa, ya, px_, py_, R["PLAT_TXT_01"], size=13, color=BLK, xanchor=pa_)
    txt(xa, ya, G["itxt02"][0], G["itxt02"][1], R["INT_TXT_02"], size=12.5, color=RED, xanchor="right")
    txt(xa, ya, G["itxt01"][0], G["itxt01"][1], R["INT_TXT_01"], size=12.5, color=BLK, xanchor="right")

    # ---------- middle : Mol 39Ar ----------
    mx = G["mx"]
    mhide = dict(showticklabels=False, tickvals=list(range(0, 61, 5)))
    inc_a = [a for a, f in zip(R["MID_AGE"], R["MID_INC"]) if f]
    inc_m = [m for m, f in zip(R["MID_MOL"], R["MID_INC"]) if f]
    exc_a = [a for a, f in zip(R["MID_AGE"], R["MID_INC"]) if not f]
    exc_m = [m for m, f in zip(R["MID_MOL"], R["MID_INC"]) if not f]
    ranks = list(range(1, len(R["MID_AGE"]) + 1))
    inc_r = [r for r, f in zip(ranks, R["MID_INC"]) if f]
    exc_r = [r for r, f in zip(ranks, R["MID_INC"]) if not f]
    xa, ya = make_axes(mx, G["mol"], [0, 60], G["mol_r"], xo=mhide,
                       yo=dict(tickvals=G["mol_tv"], ticktext=G["mol_tt"]))
    add(go.Scatter(x=exc_a, y=exc_m, mode="markers", marker=dict(symbol="square-open", size=5, color=OPEN,
                                                                 line=dict(width=1))), xa, ya)
    add(go.Scatter(x=inc_a, y=inc_m, mode="markers", marker=dict(symbol="square", size=5, color="#111")), xa, ya)

    # ---------- middle : rank ----------
    xa, ya = make_axes(mx, G["rank"], [0, 60], [0, 25], xo=mhide,
                       yo=dict(side="right", tickvals=[0, 5, 10, 15, 20, 25]))
    add(go.Scatter(x=exc_a, y=exc_r, mode="markers", marker=dict(symbol="square-open", size=5, color=OPEN,
                                                                 line=dict(width=1))), xa, ya)
    add(go.Scatter(x=inc_a, y=inc_r, mode="markers", marker=dict(symbol="square", size=5, color="#111")), xa, ya)

    # ---------- middle : probability ----------
    pxo = dict(showticklabels=last, tickvals=list(range(0, 61, 5)))
    xa, ya = make_axes(mx, G["prob"], [0, 60], [0, G["prob_max"]], xo=pxo,
                       yo=dict(tickvals=G["prob_tv"], ticktext=G["prob_tt"]))
    add(go.Scatter(x=R["ALL_X"], y=R["ALL_Y"], mode="lines",
                   line=dict(color="#666", width=1, dash="dashdot", shape="spline", smoothing=0.6)), xa, ya)
    add(go.Scatter(x=R["PDF_X"], y=R["PDF_Y"], mode="lines",
                   line=dict(color="#222", width=1, shape="spline", smoothing=0.6)), xa, ya)
    add(go.Scatter(x=[R["WM"][0]], y=[G["wm_lvl"]], mode="markers",
                   error_x=dict(type="data", array=[R["WM"][1]], color="#222", thickness=1, width=3),
                   marker=dict(symbol="line-ns", size=6, line=dict(width=1, color="#222"))), xa, ya)
    add(go.Scatter(x=[G["slab"][0]], y=[G["slab"][1]], mode="markers+text", text=[R["SAMPLE"]],
                   textposition="middle right", cliponaxis=False,
                   textfont=dict(family=FONT, size=12.5, color="#222"),
                   marker=dict(symbol="square", size=6, color="#111")), xa, ya)
    txt(xa, ya, G["wm_txt"][0], G["wm_txt"][1], R["WM_TXT"])

    # ---------- isochron ----------
    ix_tt = fmt_list(G["ix_tv"], G["ix_fmt"])
    xa, ya = make_axes(G["ix"], G["iy"], [0, G["ix_max"]], [0, 0.0040],
                       xo=dict(tickvals=G["ix_tv"], ticktext=ix_tt, showline=False, mirror=False),
                       yo=dict(tickvals=ISO_Y_TV, ticktext=fmt_list(ISO_Y_TV, "{:.4f}"),
                               showline=False, mirror=False))
    SHP.append(dict(type="rect", xref=xa + " domain", yref=ya + " domain", x0=0, x1=1, y0=0, y1=1,
                    line=dict(color="#888", width=1, dash="dot"), layer="below"))
    add(go.Scatter(x=R["ENV_X"], y=R["ENV_HI"], mode="lines", line=dict(color=OLIVE, width=1, dash="dash")), xa, ya)
    add(go.Scatter(x=R["ENV_X"], y=R["ENV_LO"], mode="lines", line=dict(color=OLIVE, width=1, dash="dash")), xa, ya)
    add(go.Scatter(x=[0, R["FIT"][1]], y=[R["FIT"][0], 0], mode="lines", line=dict(color="#444", width=1)), xa, ya)
    add(go.Scatter(x=[0], y=[ATM_RATIO], mode="markers", cliponaxis=False,
                   marker=dict(symbol="line-ew", size=9, line=dict(width=1, color="#333"))), xa, ya)
    for x, y, sx, sy, f in zip(R["ISO_X"], R["ISO_Y"], R["ISO_SX"], R["ISO_SY"], R["ISO_FILLED"]):
        SHP.append(dict(type="circle", xref=xa, yref=ya, x0=x - sx, x1=x + sx, y0=y - sy, y1=y + sy,
                        fillcolor=("#1a1a1a" if f else "rgba(0,0,0,0)"),
                        line=dict(color=("#1a1a1a" if f else MAG), width=1)))
    for f, col in [(1, "#1a1a1a"), (0, MAG)]:
        lx_ = [x + sx for x, sx, ff, lb in zip(R["ISO_X"], R["ISO_SX"], R["ISO_FILLED"], R["ISO_LBL"]) if ff == f and lb]
        ly_ = [y for y, ff, lb in zip(R["ISO_Y"], R["ISO_FILLED"], R["ISO_LBL"]) if ff == f and lb]
        lt_ = [lb for ff, lb in zip(R["ISO_FILLED"], R["ISO_LBL"]) if ff == f and lb]
        add(go.Scatter(x=lx_, y=ly_, mode="text", text=lt_, textposition="middle right", cliponaxis=False,
                       textfont=dict(family=FONT, size=13, color=col)), xa, ya)
    for t, yy in zip(R["ISO_TXT"], G["isotxt_y"]):
        txt(xa, ya, G["isotxt_x"], yy, t, size=12.5, xanchor="left")

    # ---------- titles ----------
    ptxt(G["t_mid"], R["MID_TITLE"], size=13)
    ptxt(G["t_iso"], R["ISO_TITLE"], size=12.8)
    ptxt(G["t_isox"], "39<sub>Ar/</sub> 40<sub>Ar</sub>", size=13.5)
    ptxt(G["t_isoy"], "36<sub>Ar/</sub> 40<sub>Ar</sub>", size=13.5, angle=-90)
    ptxt(G["t_rank"], "Increasing Age Rank", size=13, angle=90)
    ptxt(G["t_rad"], "% 40<sub>Ar*</sub>", size=14, angle=-90)
    ptxt(G["t_age"], "Apparent Age (Ma)", size=14.5, angle=-90)
    ptxt(G["t_prob"], "Relative Probability", size=14, angle=-90)
    ptxt(G["t_mol"], "Mol<sup>39</sup><sub>Ar</sub>", size=14, angle=-90)
    ptxt(G["t_kca"], "K/Ca", size=13.5, angle=90)

ptxt((242, 1733), "Cumulative %<sup>39</sup>Ar Released", size=13)
ptxt((686, 1738), "Age (Ma)", size=13.5)
ptxt((1163, 1657), "39    40", size=12.5)

LAY.update(width=W, height=H, margin=dict(l=0, r=0, t=0, b=0), autosize=False,
           paper_bgcolor="white", plot_bgcolor="rgba(0,0,0,0)", showlegend=False, hovermode=False,
           font=dict(family=FONT, size=12, color="#222"), annotations=ANN, shapes=SHP)
fig.update_layout(**LAY)
fig.write_html("out.html")
